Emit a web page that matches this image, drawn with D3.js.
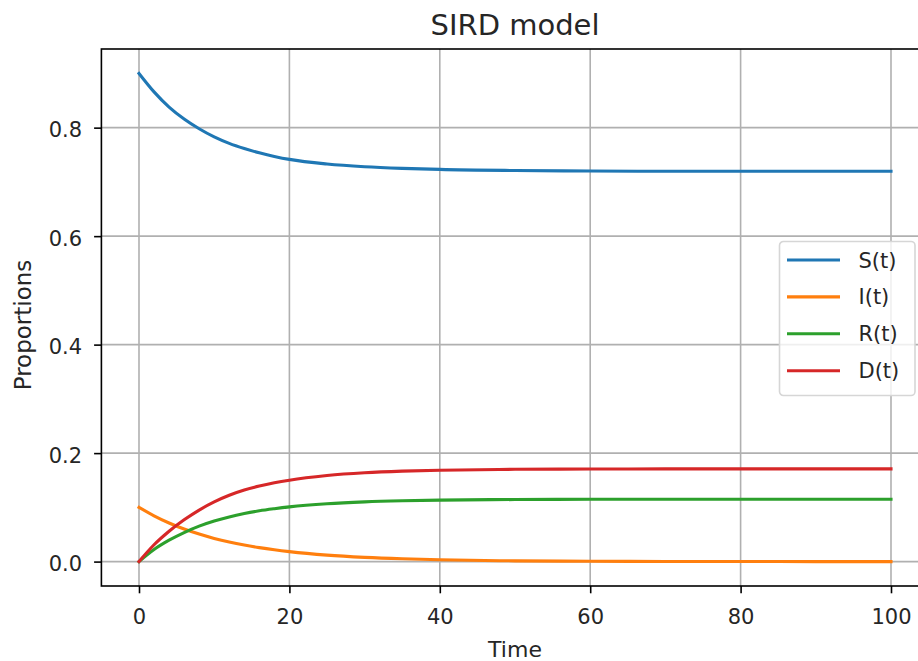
<!DOCTYPE html>
<html>
<head>
<meta charset="utf-8">
<script src="https://cdn.jsdelivr.net/npm/d3@7"></script>
<style>
	body { margin: 0; background: #fff; }
	svg { display: block; font-family: "DejaVu Sans", sans-serif; }
	.grid line { stroke: #b0b0b0; stroke-width: 1.6px; }
	.tick-label { font-size: 21px; fill: #262626; }
</style>
</head>
<body>
<svg width="918" height="661"></svg>
<script>
'use strict';

// time points and the four compartments
const times = [0, 2, 4, 6, 8, 10, 12, 14, 16, 18, 20, 25, 30, 35, 40, 50, 60, 70, 80, 90, 100];
const susceptible = [0.900, 0.866, 0.838, 0.816, 0.798, 0.783, 0.771, 0.7615, 0.7535, 0.747, 0.7415, 0.733, 0.728, 0.725, 0.723, 0.721, 0.720, 0.7195, 0.7195, 0.7195, 0.7195];
const infected = [0.100, 0.0845, 0.0712, 0.0600, 0.0507, 0.0427, 0.0360, 0.0304, 0.0257, 0.0217, 0.0183, 0.0119, 0.0078, 0.0051, 0.0033, 0.0014, 0.0006, 0.0003, 0.0001, 0.0, 0.0];
const recovered = [0, 0.0222, 0.0394, 0.0535, 0.0653, 0.0747, 0.0824, 0.0886, 0.0936, 0.0975, 0.1009, 0.1067, 0.1101, 0.1121, 0.1133, 0.1144, 0.1148, 0.1149, 0.115, 0.115, 0.115];
const dead = [0, 0.031, 0.056, 0.077, 0.095, 0.110, 0.1222, 0.1318, 0.1392, 0.1452, 0.1501, 0.1586, 0.1637, 0.1667, 0.1684, 0.1701, 0.1707, 0.1709, 0.171, 0.171, 0.171];

const seriesNames = ["S(t)", "I(t)", "R(t)", "D(t)"];
const seriesColors = ["#1f77b4", "#ff7f0e", "#2ca02c", "#d62728"];
const xTicks = [0, 20, 40, 60, 80, 100];
const yTicks = [0.0, 0.2, 0.4, 0.6, 0.8];

function drawChart() {
	const svg = d3.select("svg");

	// axes box runs off the right edge, like the reference crop
	const x = d3.scaleLinear().domain([-5, 105]).range([101.4, 928.6]);
	const y = d3.scaleLinear().domain([-0.045, 0.945]).range([586, 49]);

	const series = [susceptible, infected, recovered, dead].map((vals, i) => ({
		name: seriesNames[i],
		color: seriesColors[i],
		points: times.map((t, j) => [t, vals[j]])
	}));

	// grid
	const grid = svg.append("g").attr("class", "grid");
	grid.selectAll(".gx")
		.data(xTicks)
		.enter().append("line")
		.attr("x1", d => x(d)).attr("x2", d => x(d))
		.attr("y1", y.range()[1]).attr("y2", y.range()[0]);
	grid.selectAll(".gy")
		.data(yTicks)
		.enter().append("line")
		.attr("x1", x.range()[0]).attr("x2", x.range()[1])
		.attr("y1", d => y(d)).attr("y2", d => y(d));

	// lines
	const line = d3.line()
		.x(d => x(d[0]))
		.y(d => y(d[1]))
		.curve(d3.curveMonotoneX);

	svg.append("g")
		.selectAll("path")
		.data(series)
		.enter().append("path")
		.attr("d", d => line(d.points))
		.attr("fill", "none")
		.attr("stroke", d => d.color)
		.attr("stroke-width", 3.1)
		.attr("stroke-linecap", "square");

	// axes
	const xAxis = d3.axisBottom(x)
		.tickValues(xTicks)
		.tickSize(7.3)
		.tickPadding(9)
		.tickFormat(d3.format("d"));
	const yAxis = d3.axisLeft(y)
		.tickValues(yTicks)
		.tickSize(7.3)
		.tickPadding(12)
		.tickFormat(d3.format(".1f"));

	const gx = svg.append("g")
		.attr("transform", "translate(0," + y.range()[0] + ")")
		.call(xAxis);
	const gy = svg.append("g")
		.attr("transform", "translate(" + x.range()[0] + ",0)")
		.call(yAxis);

	[gx, gy].forEach(g => {
		g.select(".domain").remove();
		g.selectAll(".tick line").attr("stroke", "#000").attr("stroke-width", 1.6);
		g.selectAll(".tick text")
			.attr("class", "tick-label")
			.attr("fill", "#262626")
			.style("font-family", "DejaVu Sans, sans-serif");
	});
	gx.selectAll(".tick text").attr("dy", "1.02em");
	gy.selectAll(".tick text").attr("dy", "0.43em");

	// frame
	svg.append("rect")
		.attr("x", x.range()[0])
		.attr("y", y.range()[1])
		.attr("width", x.range()[1] - x.range()[0])
		.attr("height", y.range()[0] - y.range()[1])
		.attr("fill", "none")
		.attr("stroke", "#000")
		.attr("stroke-width", 1.6);

	// titles
	svg.append("text")
		.attr("x", (x.range()[0] + x.range()[1]) / 2)
		.attr("y", 35)
		.attr("text-anchor", "middle")
		.attr("font-size", 29)
		.attr("fill", "#262626")
		.text("SIRD model");

	svg.append("text")
		.attr("x", (x.range()[0] + x.range()[1]) / 2)
		.attr("y", 657)
		.attr("text-anchor", "middle")
		.attr("font-size", 22)
		.attr("fill", "#262626")
		.text("Time");

	svg.append("text")
		.attr("transform", "translate(31,325) rotate(-90)")
		.attr("text-anchor", "middle")
		.attr("font-size", 23)
		.attr("fill", "#262626")
		.text("Proportions");

	// legend
	const legend = svg.append("g").attr("transform", "translate(779.5,241.5)");
	legend.append("rect")
		.attr("width", 135.5)
		.attr("height", 154)
		.attr("rx", 4)
		.attr("fill", "#fff")
		.attr("fill-opacity", 0.8)
		.attr("stroke", "#d6d6d6")
		.attr("stroke-width", 1.6);

	const item = legend.selectAll(".item")
		.data(series)
		.enter().append("g")
		.attr("transform", (d, i) => "translate(0," + (18.5 + i * 36.9) + ")");
	item.append("line")
		.attr("x1", 7.5).attr("x2", 60.5)
		.attr("stroke", d => d.color)
		.attr("stroke-width", 3.1);
	item.append("text")
		.attr("x", 79)
		.attr("dy", "0.36em")
		.attr("font-size", 21)
		.attr("fill", "#262626")
		.text(d => d.name);
}

drawChart();
</script>
</body>
</html>
